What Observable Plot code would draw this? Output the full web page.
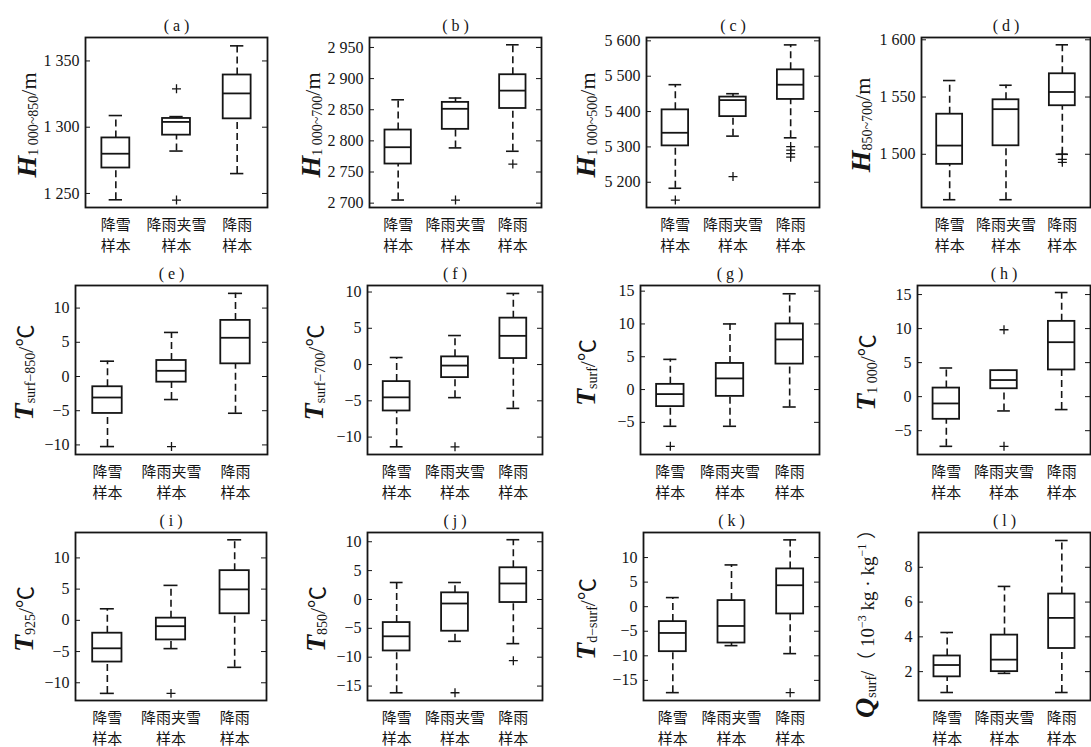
<!DOCTYPE html>
<html lang="zh">
<head>
<meta charset="utf-8">
<script src="https://cdn.jsdelivr.net/npm/d3@7"></script>
<script src="https://cdn.jsdelivr.net/npm/@observablehq/plot@0.6"></script>
<style>
html,body{margin:0;padding:0;background:#fff;}
#root{position:relative;width:1091px;height:747px;overflow:hidden;background:#fff;}
#root svg{position:absolute;overflow:visible;}
</style>
</head>
<body>
<div id="root"></div>
<script>
// ---------------- data ----------------
const panelIds = ["a","b","c","d","e","f","g","h","i","j","k","l"];
const categories = ["降雪\n样本", "降雨夹雪\n样本", "降雨\n样本"];

const whiskerLow = [
  [1245.2, 1282, 1265], [2705, 2788.7, 2783.3], [5183, 5330.5, 5325.7], [1460.3, 1460.3, 1500],
  [-10.24, -3.37, -5.37], [-11.34, -4.56, -6.04], [-5.6, -5.6, -2.66], [-7.3, -2.1, -1.9],
  [-11.7, -4.53, -7.53], [-16.16, -7.25, -7.65], [-17.5, -7.93, -9.56], [0.8, 1.9, 0.8]
];
const quartile1 = [
  [1269.2, 1294, 1306.3], [2762.8, 2818.5, 2852], [5302.9, 5385.7, 5434.3], [1491.2, 1507.4, 1542.4],
  [-5.4, -0.83, 1.85], [-6.4, -1.8, 0.83], [-2.6, -1.04, 3.88], [-3.33, 1.16, 3.92],
  [-6.68, -3.14, 1.05], [-8.92, -5.5, -0.53], [-9.16, -7.4, -1.48], [1.7, 2.0, 3.33]
];
const medians = [
  [1280, 1304, 1325.5], [2789.8, 2851.5, 2880.7], [5340, 5432.4, 5476], [1507.6, 1539.4, 1554.4],
  [-3.07, 0.83, 5.66], [-4.52, -0.14, 3.96], [-0.69, 1.7, 7.64], [-1.0, 2.44, 8.0],
  [-4.48, -0.94, 4.96], [-6.38, -0.7, 2.77], [-5.35, -3.93, 4.36], [2.38, 2.69, 5.09]
];
const quartile3 = [
  [1291.9, 1306.6, 1339.4], [2817.4, 2861.8, 2906.2], [5404.8, 5441, 5518], [1535, 1547.6, 1570.3],
  [-1.5, 2.34, 8.2], [-2.35, 1.06, 6.4], [0.79, 3.98, 10.0], [1.26, 3.82, 11.06],
  [-2.06, 0.35, 7.96], [-4.0, 1.15, 5.49], [-3.04, 1.24, 7.69], [2.9, 4.1, 6.46]
];
const whiskerHigh = [
  [1308.8, 1308, 1361.4], [2866, 2868.8, 2954.3], [5476, 5450.5, 5588.6], [1564.4, 1560.3, 1595.6],
  [2.24, 6.44, 12.15], [0.97, 4.0, 9.8], [4.6, 10.0, 14.6], [4.21, 3.82, 15.3],
  [1.85, 5.6, 12.9], [2.94, 2.94, 10.35], [1.85, 8.5, 13.6], [4.25, 6.9, 9.54]
];
// outliers: [category index, value]
const outliers = [
  [[1, 1329], [1, 1245]],
  [[1, 2705], [2, 2762.8]],
  [[0, 5149.5], [1, 5216], [2, 5301], [2, 5291], [2, 5281], [2, 5271]],
  [[2, 1500], [2, 1495.5], [2, 1493]],
  [[1, -10.24]],
  [[1, -11.34]],
  [[0, -8.65]],
  [[1, 9.83], [1, -7.3]],
  [[1, -11.7]],
  [[1, -16.16], [2, -10.6]],
  [[2, -17.5]],
  []
];
const yDomains = [
  [1239.4, 1367.7], [2693, 2966], [5128.6, 5609.5], [1453.5, 1602],
  [-11.4, 13.3], [-12.4, 10.9], [-9.9, 15.86], [-8.5, 16.33],
  [-12.84, 14.07], [-17.5, 11.6], [-19.1, 15.1], [0.34, 10.0]
];
const yTicks = [
  [1250, 1300, 1350], [2700, 2750, 2800, 2850, 2900, 2950], [5200, 5300, 5400, 5500, 5600], [1500, 1550, 1600],
  [-10, -5, 0, 5, 10], [-10, -5, 0, 5, 10], [-5, 0, 5, 10, 15], [-5, 0, 5, 10, 15],
  [-10, -5, 0, 5, 10], [-15, -10, -5, 0, 5, 10], [-15, -10, -5, 0, 5, 10], [2, 4, 6, 8]
];
const labelVar = ["H","H","H","H","T","T","T","T","T","T","T","Q"];
const labelSub = ["1 000~850","1 000~700","1 000~500","850~700","surf−850","surf−700","surf","1 000","925","850","d−surf","surf"];
const labelUnit = ["/m","/m","/m","/m","/℃","/℃","/℃","/℃","/℃","/℃","/℃","/（ 10^{−3} kg · kg^{−1} ）"];

// ---------------- layout ----------------
const colLeft = [0, 272, 546, 820];
const colRight = [272, 546, 820, 1091];
const rowTop = [0, 250, 497];
const rowBottom = [250, 497, 747];
const frameLeft = [85, 369, 646, 921, 75, 367, 640, 917, 75, 367, 643, 918];
const frameRight = [267, 541, 819, 1090, 267, 542, 819, 1090, 266, 542, 819, 1090];
const frameTop = [37, 285, 532];
const frameBottom = [207, 454, 700];
const labelBaseline = [36, 320, 595, 870, 33, 323, 595, 875, 33, 325, 595, 874];

const serif = "'Liberation Serif','Times New Roman','Noto Sans CJK SC',serif";
const ink = "#151515";
const boxHalf = 0.23, capHalf = 0.11;
const fmt = d => d3.format(",")(d).replace(/,/g, " ");

const root = document.getElementById("root");

panelIds.forEach((id, p) => {
  const r = Math.floor(p / 4), c = p % 4;
  const W = colRight[c] - colLeft[c], H = rowBottom[r] - rowTop[r];
  const ml = frameLeft[p] - colLeft[c], mr = colRight[c] - frameRight[p];
  const mt = frameTop[r] - rowTop[r], mb = rowBottom[r] - frameBottom[r];
  const fw = frameRight[p] - frameLeft[p];
  const rows = categories.map((cat, i) => ({
    pos: i + 1, lo: whiskerLow[p][i], q1: quartile1[p][i], med: medians[p][i],
    q3: quartile3[p][i], hi: whiskerHigh[p][i]
  }));
  const outs = outliers[p].map(([i, v]) => ({pos: i + 1, v}));
  const ticks = yTicks[p];

  const svg = Plot.plot({
    width: W, height: H,
    marginLeft: ml, marginRight: mr, marginTop: mt, marginBottom: mb,
    x: {domain: [0.5, 3.5], axis: null},
    y: {domain: yDomains[p], axis: null},
    style: {fontFamily: serif, fontSize: "15px", color: ink, background: "transparent", overflow: "visible"},
    marks: [
      Plot.ruleX(rows, {x: "pos", y1: "q3", y2: "hi", stroke: ink, strokeWidth: 1.6, strokeDasharray: "7,4"}),
      Plot.ruleX(rows, {x: "pos", y1: "lo", y2: "q1", stroke: ink, strokeWidth: 1.6, strokeDasharray: "7,4"}),
      Plot.ruleY(rows, {y: "hi", x1: d => d.pos - capHalf, x2: d => d.pos + capHalf, stroke: ink, strokeWidth: 1.6}),
      Plot.ruleY(rows, {y: "lo", x1: d => d.pos - capHalf, x2: d => d.pos + capHalf, stroke: ink, strokeWidth: 1.6}),
      Plot.rect(rows, {x1: d => d.pos - boxHalf, x2: d => d.pos + boxHalf, y1: "q1", y2: "q3", fill: "white", stroke: ink, strokeWidth: 1.8}),
      Plot.ruleY(rows, {y: "med", x1: d => d.pos - boxHalf, x2: d => d.pos + boxHalf, stroke: ink, strokeWidth: 1.8}),
      Plot.dot(outs, {x: "pos", y: "v", symbol: "plus", r: 3, stroke: ink, strokeWidth: 1.3}),
      Plot.ruleY(ticks, {y: d => d, insetRight: fw - 5, stroke: ink, strokeWidth: 1}),
      Plot.ruleY(ticks, {y: d => d, insetLeft: fw - 5, stroke: ink, strokeWidth: 1}),
      Plot.frame({stroke: ink, strokeWidth: 1.8}),
      Plot.axisY({ticks, tickSize: 0, tickPadding: 6, tickFormat: fmt, fontSize: 16, label: null}),
      Plot.axisX({ticks: [1, 2, 3], tickSize: 0, tickPadding: 7, tickFormat: i => categories[i - 1], fontSize: 15, lineHeight: 1.42, label: null, fontFamily: "'Noto Sans CJK SC',sans-serif"}),
      Plot.text([`( ${id} )`], {frameAnchor: "top", dy: -12, fontSize: 16, lineAnchor: "middle", fill: ink})
    ]
  });
  svg.style.left = colLeft[c] + "px";
  svg.style.top = rowTop[r] + "px";

  // rotated y-axis label with subscript / superscripts
  const bx = labelBaseline[p] - colLeft[c];
  const cy = (frameTop[r] + frameBottom[r]) / 2 - rowTop[r] + 3;
  const t = d3.select(svg).append("text")
    .attr("transform", `translate(${bx},${cy}) rotate(-90)`)
    .attr("text-anchor", "middle")
    .attr("font-family", serif)
    .attr("fill", ink);
  t.append("tspan").attr("font-style", "italic").attr("font-weight", "bold").attr("font-size", 28).text(labelVar[p]);
  t.append("tspan").attr("font-size", 14).attr("dy", 2).text(labelSub[p]);
  let shift = 2;
  const parts = labelUnit[p].split(/\^\{([^}]*)\}/);
  parts.forEach((s, k) => {
    if (!s) return;
    const sup = k % 2 === 1;
    const target = sup ? -8 : 0;
    t.append("tspan").attr("font-size", sup ? 12 : (p === 11 ? 19 : 22)).attr("dy", target - shift).text(s);
    shift = target;
  });
  root.appendChild(svg);
});
</script>
</body>
</html>
